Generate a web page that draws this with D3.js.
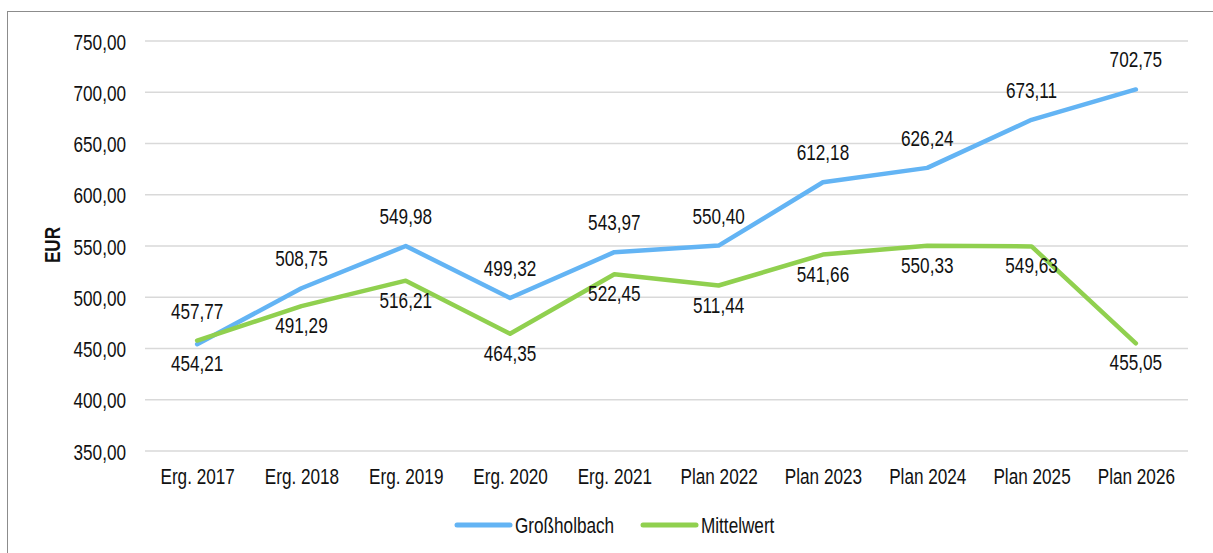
<!DOCTYPE html>
<html>
<head>
<meta charset="utf-8">
<script src="https://cdn.jsdelivr.net/npm/d3@7"></script>
<style>
  body { margin: 0; background: #fff; }
  svg { display: block; font-family: "Liberation Sans", Arial, sans-serif; }
</style>
</head>
<body>
<div id="vis"></div>
<script>
// chart data
var categories = ['Erg. 2017', 'Erg. 2018', 'Erg. 2019', 'Erg. 2020', 'Erg. 2021',
                  'Plan 2022', 'Plan 2023', 'Plan 2024', 'Plan 2025', 'Plan 2026'];
var grossholbach = [454.21, 508.75, 549.98, 499.32, 543.97, 550.40, 612.18, 626.24, 673.11, 702.75];
var mittelwert = [457.77, 491.29, 516.21, 464.35, 522.45, 511.44, 541.66, 550.33, 549.63, 455.05];
var yTicks = [350, 400, 450, 500, 550, 600, 650, 700, 750];
var seriesNames = ['Großholbach', 'Mittelwert'];

var width = 1213;
var height = 553;
var colors = ['#63b4f4', '#90d04f'];
var fontSize = 22;
var narrow = 'scale(0.78,1)'; // the original uses a narrow sans face

var svg = d3.select('#vis')
  .append('svg')
  .attr('width', width)
  .attr('height', height);

// outer frame (runs off the right and bottom edge)
svg.append('rect')
  .attr('x', 7.5).attr('y', 11.5)
  .attr('width', width + 10).attr('height', height + 10)
  .attr('fill', 'none')
  .attr('stroke', '#8c8c8c')
  .attr('stroke-width', 1);

var x = d3.scalePoint()
  .domain(categories)
  .range([145, 1188])
  .padding(0.5);

var y = d3.scaleLinear()
  .domain([350, 750])
  .range([451, 41]);

var fmt = function(v) { return d3.format('.2f')(v).replace('.', ','); };

// narrow text helper
function label(g, px, py, str, anchor, weight) {
  return g.append('text')
    .attr('transform', 'translate(' + px + ',' + py + ') ' + narrow)
    .attr('text-anchor', anchor || 'middle')
    .attr('font-size', fontSize)
    .attr('font-weight', weight || 'normal')
    .attr('fill', '#111')
    .text(str);
}

// gridlines
svg.append('g')
  .selectAll('line')
  .data(yTicks)
  .enter().append('line')
  .attr('x1', 145).attr('x2', 1188)
  .attr('y1', function(d) { return y(d); })
  .attr('y2', function(d) { return y(d); })
  .attr('stroke', '#d9d9d9')
  .attr('stroke-width', 1.5);

// y axis labels
var yAxis = d3.axisLeft(y).tickValues(yTicks).tickSize(0).tickPadding(0).tickFormat(fmt);
svg.append('g')
  .attr('transform', 'translate(126,0)')
  .call(yAxis)
  .call(function(g) { g.select('.domain').remove(); })
  .selectAll('text')
  .attr('x', 0).attr('y', 8).attr('dy', null)
  .attr('transform', narrow)
  .attr('font-family', '"Liberation Sans", Arial, sans-serif')
  .attr('font-size', fontSize)
  .attr('fill', '#111');

// x axis labels
var xAxis = d3.axisBottom(x).tickSize(0).tickPadding(0);
svg.append('g')
  .attr('transform', 'translate(0,484)')
  .call(xAxis)
  .call(function(g) { g.select('.domain').remove(); })
  .selectAll('text')
  .attr('y', 0).attr('dy', null)
  .attr('transform', narrow)
  .attr('font-family', '"Liberation Sans", Arial, sans-serif')
  .attr('font-size', fontSize)
  .attr('fill', '#111');

// y axis title
svg.append('text')
  .attr('transform', 'translate(60,245) rotate(-90) ' + narrow)
  .attr('text-anchor', 'middle')
  .attr('font-size', fontSize)
  .attr('font-weight', 'bold')
  .attr('fill', '#111')
  .text('EUR');

var series = [grossholbach, mittelwert];

var line = d3.line()
  .x(function(d, i) { return x(categories[i]); })
  .y(function(d) { return y(d); });

series.forEach(function(vals, s) {
  svg.append('path')
    .datum(vals)
    .attr('d', line)
    .attr('fill', 'none')
    .attr('stroke', colors[s])
    .attr('stroke-width', 4.5)
    .attr('stroke-linejoin', 'round')
    .attr('stroke-linecap', 'round');
});

// data labels: the higher value goes above, the lower one below
series.forEach(function(vals, s) {
  var other = series[1 - s];
  var g = svg.append('g');
  vals.forEach(function(d, i) {
    var py = d >= other[i] ? y(d) - 22 : y(d) + 27;
    label(g, x(categories[i]), py, fmt(d));
  });
});

// legend
var legend = svg.append('g').attr('transform', 'translate(0,525)');
var legendX = [457, 643];
seriesNames.forEach(function(name, s) {
  legend.append('line')
    .attr('x1', legendX[s]).attr('x2', legendX[s] + 53)
    .attr('y1', 0).attr('y2', 0)
    .attr('stroke', colors[s])
    .attr('stroke-width', 5)
    .attr('stroke-linecap', 'round');
  label(legend, legendX[s] + 58, 8, name, 'start');
});
</script>
</body>
</html>
